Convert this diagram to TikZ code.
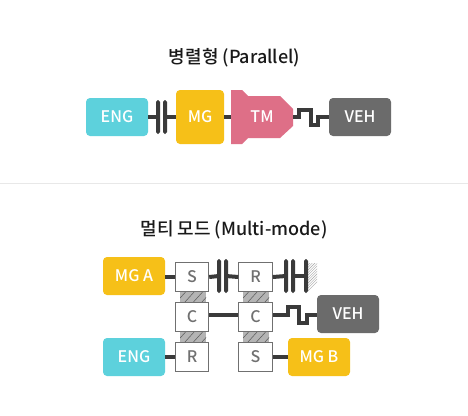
\documentclass[tikz,border=0pt]{standalone}
\usepackage{fontspec}
\setmainfont{Noto Sans CJK KR Medium}
\newcommand\lowtx[1]{\raisebox{-.8pt}{#1}}
\begin{document}
\definecolor{cy}{HTML}{5DD1DC}
\definecolor{yl}{HTML}{F6C018}
\definecolor{pk}{HTML}{DE6F87}
\definecolor{gy}{HTML}{6B6B6B}
\definecolor{ln}{HTML}{3A3A3A}
\definecolor{bx}{HTML}{707070}
\definecolor{ht}{HTML}{B4B4B4}
\begin{tikzpicture}[x=1pt,y=-1pt,
  blk/.style={rounded corners=4pt,text=white,font=\fontsize{16}{16}\selectfont,minimum height=38pt,minimum width=62pt,inner sep=0pt,anchor=center},
  gear/.style={draw=bx,line width=.9pt,fill=white,text=bx,font=\fontsize{16}{16}\selectfont,minimum width=33.5pt,minimum height=29.5pt,inner sep=0pt},
  plate/.style={fill=ln,rounded corners=1.8pt,minimum width=4pt,minimum height=34pt,inner sep=0pt},
  link/.style={draw=ln,line width=4pt},
  ttl/.style={font=\fontsize{18}{18}\selectfont,text=black!90,inner sep=0pt}]
\useasboundingbox (0,0) rectangle (468,415);
\fill[white] (0,0) rectangle (468,415);
\draw[black!9,line width=.8pt] (0,183.5) -- (468,183.5);
\node[ttl] (t1) at (234.5,58) {병렬형 (Parallel)};
\node[ttl] (t2) at (234,230) {멀티 모드 (Multi-mode)};
% parallel
\node[blk,fill=cy] (eng) at (117,117) {\lowtx{ENG}};
\node[plate] (p1) at (158,117) {};
\node[plate] (p2) at (165,117) {};
\node[blk,fill=yl,minimum width=48pt,minimum height=54pt] (mg) at (200,117) {\lowtx{MG}};
\fill[pk] (231,90) -- (242,90) -- (248,96) -- (280,96) -- (293,109) -- (293,126) -- (280,138) -- (248,138) -- (242,144) -- (231,144) -- cycle;
\node[text=white,font=\fontsize{16}{16}\selectfont,inner sep=0pt] (tm) at (262,117) {\lowtx{TM}};
\coordinate (tml) at (231,117);
\coordinate (tmr) at (293,117);
\node[blk,fill=gy] (veh) at (360,117) {\lowtx{VEH}};
\draw[link] (eng.east) -- (p1.center);
\draw[link] (p2.center) -- (mg.west);
\draw[link] (mg.east) -- (tml);
\draw[link] (tmr) -- (298.5,117) -- (298.5,110) -- (310.5,110) -- (310.5,125) -- (318,125) -- (318,117) -- (veh.west);
% multi-mode hatches
\foreach \y in {292,332,}{
 \ifx\y\empty\else
 \begin{scope}
  \clip (180,\y) rectangle (206,\y+10);
  \fill[ht] (180,\y) rectangle (206,\y+10);
  \foreach \k in {0,1,2,3}{\draw[black!65,line width=.5pt] (176+\k*8.5,\y+10.5) -- (186+\k*8.5,\y-.5);}
 \end{scope}
 \begin{scope}
  \clip (243,\y) rectangle (269,\y+10);
  \fill[ht] (243,\y) rectangle (269,\y+10);
  \foreach \k in {0,1,2,3}{\draw[black!65,line width=.5pt] (239+\k*8.5,\y+10.5) -- (249+\k*8.5,\y-.5);}
 \end{scope}
 \fi
}
\begin{scope}
 \clip (308,263) rectangle (317,290);
 \foreach \k in {0,...,13}{\draw[black!35,line width=.4pt] (300,265+\k*2.6) -- (320,245+\k*2.6);}
\end{scope}
\node[blk,fill=yl] (mga) at (134,276) {\lowtx{MG A}};
\node[blk,fill=cy] (eng2) at (134,357) {\lowtx{ENG}};
\node[gear] (s1) at (192,277) {S};
\node[gear] (c1) at (192,317) {C};
\node[gear] (r1) at (192,357) {R};
\node[gear] (r2) at (255.5,277) {R};
\node[gear] (c2) at (255.5,317) {C};
\node[gear] (s2) at (255.5,357) {S};
\node[plate] (q1) at (219,276) {};
\node[plate] (q2) at (226,276) {};
\node[plate] (q3) at (286,276) {};
\node[plate] (q4) at (293,276) {};
\node[plate] (q5) at (306,276) {};
\node[blk,fill=gy] (veh2) at (348,314) {\lowtx{VEH}};
\node[blk,fill=yl] (mgb) at (319,357) {\lowtx{MG B}};
\coordinate (c1r) at (209,315);
\coordinate (c2l) at (238,315);
\coordinate (c2r) at (273,315);
\coordinate (vl) at (317,315);
\draw[link] (mga.east |- s1.west) -- (s1.west);
\draw[link] (s1.east) -- (q1.center);
\draw[link] (q2.center) -- (r2.west);
\draw[link] (r2.east) -- (q3.center);
\draw[link] (q4.center) -- (q5.center);
\draw[link] (eng2.east) -- (r1.west);
\draw[link] (s2.east) -- (mgb.west);
\draw[link] (c1r) -- (c2l);
\draw[link] (c2r) -- (288,315) -- (288,307) -- (299,307) -- (299,323) -- (307,323) -- (307,315) -- (vl);
\end{tikzpicture}
\end{document}
